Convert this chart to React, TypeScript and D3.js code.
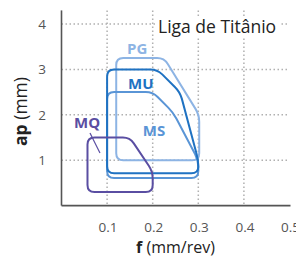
import React from "react";
import * as d3 from "d3";

const xTicks = [0.1, 0.2, 0.3, 0.4, 0.5];
const xTickLabels = ["0.1", "0.2", "0.3", "0.4", "0.5"];
const yTicks = [1, 2, 3, 4];
const yTickLabels = ["1", "2", "3", "4"];
const gridX = [0.1, 0.2, 0.3, 0.4];
const gridY = [1, 2, 3, 4];

const title = "Liga de Titânio";
const xLabelBold = "f";
const xLabelRest = " (mm/rev)";
const yLabelBold = "ap";
const yLabelRest = " (mm)";

// region outlines (f in mm/rev, ap in mm)
const pgF = [0.12, 0.12, 0.225, 0.302, 0.302];
const pgAp = [1.0, 3.25, 3.25, 2.0, 1.0];
const muF = [0.1, 0.1, 0.21, 0.26, 0.3, 0.3];
const muAp = [0.71, 3.0, 3.0, 2.5, 1.0, 0.71];
const msF = [0.1, 0.1, 0.2, 0.245, 0.3, 0.3];
const msAp = [0.61, 2.5, 2.5, 2.05, 1.0, 0.61];
const mqF = [0.057, 0.057, 0.15, 0.2, 0.2];
const mqAp = [0.3, 1.5, 1.5, 0.75, 0.3];

const regionNames = ["PG", "MS", "MU", "MQ"];
const labelF = [0.166, 0.203, 0.174, 0.056];
const labelAp = [3.47, 1.66, 2.7, 1.82];
const leaderF = [0.0625, 0.0844];
const leaderAp = [1.6, 1.16];

const colors: Record<string, string> = {
  PG: "#8db4e4",
  MS: "#5a95d6",
  MU: "#1f72c2",
  MQ: "#5a4ea2",
};

function roundedPath(pts: [number, number][], r: number): string {
  const n = pts.length;
  const a: [number, number][] = [];
  const b: [number, number][] = [];
  for (let i = 0; i < n; i++) {
    const p = pts[i];
    const prev = pts[(i - 1 + n) % n];
    const next = pts[(i + 1) % n];
    const l1 = Math.hypot(prev[0] - p[0], prev[1] - p[1]);
    const l2 = Math.hypot(next[0] - p[0], next[1] - p[1]);
    const d1 = Math.min(r, l1 / 2);
    const d2 = Math.min(r, l2 / 2);
    a.push([p[0] + ((prev[0] - p[0]) * d1) / l1, p[1] + ((prev[1] - p[1]) * d1) / l1]);
    b.push([p[0] + ((next[0] - p[0]) * d2) / l2, p[1] + ((next[1] - p[1]) * d2) / l2]);
  }
  const path = d3.path();
  path.moveTo(b[n - 1][0], b[n - 1][1]);
  for (let i = 0; i < n; i++) {
    path.lineTo(a[i][0], a[i][1]);
    path.quadraticCurveTo(pts[i][0], pts[i][1], b[i][0], b[i][1]);
  }
  path.closePath();
  return path.toString();
}

export default function App() {
  const W = 296;
  const H = 257;
  const x = d3.scaleLinear().domain([0, 0.5]).range([61.5, 289.5]);
  const y = d3.scaleLinear().domain([0, 4.3]).range([205.6, 10.4]);
  const font = "'Open Sans', sans-serif";

  const shapes: { name: string; f: number[]; ap: number[] }[] = [
    { name: "PG", f: pgF, ap: pgAp },
    { name: "MS", f: msF, ap: msAp },
    { name: "MU", f: muF, ap: muAp },
    { name: "MQ", f: mqF, ap: mqAp },
  ];

  return (
    <svg
      width={W}
      height={H}
      style={{ position: "absolute", left: 0, top: 0, background: "#fff" }}
      fontFamily={font}
    >
      <rect x={0} y={0} width={W} height={H} fill="#fff" />
      {/* grid */}
      {gridX.map((v) => (
        <line
          key={"gx" + v}
          x1={x(v)}
          x2={x(v)}
          y1={y(4.3)}
          y2={y(0)}
          stroke="#b0b0b0"
          strokeWidth={1.5}
          strokeDasharray="1.5 2.5"
        />
      ))}
      {gridY.map((v) => (
        <line
          key={"gy" + v}
          x1={x(0)}
          x2={x(0.5)}
          y1={y(v)}
          y2={y(v)}
          stroke="#b0b0b0"
          strokeWidth={1.5}
          strokeDasharray="1.5 2.5"
        />
      ))}
      {/* title */}
      <rect x={156} y={17} width={124} height={21} fill="#fff" />
      <text x={158} y={33} fontSize={17.5} fill="#222">
        {title}
      </text>
      {/* axes */}
      <line x1={x(0)} x2={x(0)} y1={y(4.3)} y2={y(0)} stroke="#555" strokeWidth={1.6} />
      <line x1={x(0)} x2={x(0.5) + 1} y1={y(0)} y2={y(0)} stroke="#555" strokeWidth={1.6} />
      {xTicks.map((v, i) => (
        <text
          key={"xt" + v}
          x={x(v) + 1}
          y={231.5}
          textAnchor="middle"
          fontSize={13.5}
          fill="#555"
        >
          {xTickLabels[i]}
        </text>
      ))}
      {yTicks.map((v, i) => (
        <text
          key={"yt" + v}
          x={42}
          y={y(v) + 5}
          textAnchor="middle"
          fontSize={13.5}
          fill="#555"
        >
          {yTickLabels[i]}
        </text>
      ))}
      <text x={175.5} y={253} textAnchor="middle" fontSize={16} fill="#222">
        <tspan fontWeight={700}>{xLabelBold}</tspan>
        <tspan>{xLabelRest}</tspan>
      </text>
      <text
        transform={`translate(26.5,${111.5}) rotate(-90)`}
        textAnchor="middle"
        fontSize={17.5}
        fill="#222"
      >
        <tspan fontWeight={700}>{yLabelBold}</tspan>
        <tspan>{yLabelRest}</tspan>
      </text>
      {/* regions */}
      {shapes.map((s) => (
        <path
          key={s.name}
          d={roundedPath(
            s.f.map((f, i) => [x(f), y(s.ap[i])] as [number, number]),
            7
          )}
          fill="none"
          stroke={colors[s.name]}
          strokeWidth={2}
          strokeLinejoin="round"
        />
      ))}
      <line
        x1={x(leaderF[0])}
        y1={y(leaderAp[0])}
        x2={x(leaderF[1])}
        y2={y(leaderAp[1])}
        stroke={colors.MQ}
        strokeWidth={1.2}
      />
      {regionNames.map((n, i) => (
        <text
          key={"lbl" + n}
          x={x(labelF[i])}
          y={y(labelAp[i]) + 5.5}
          textAnchor="middle"
          fontSize={15}
          fontWeight={700}
          fill={colors[n]}
        >
          {n}
        </text>
      ))}
    </svg>
  );
}
